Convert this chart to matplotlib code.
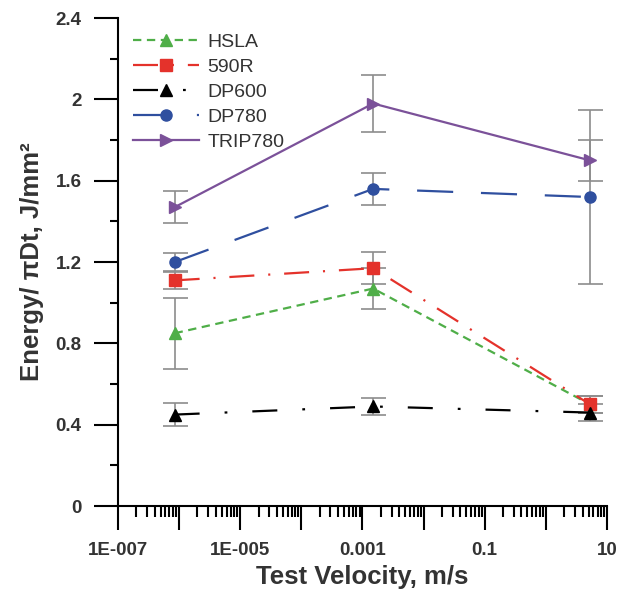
import matplotlib
matplotlib.use('Agg')
import matplotlib.pyplot as plt
from matplotlib.ticker import FixedLocator, LogLocator, NullFormatter, MultipleLocator

plt.rcParams['font.family'] = ['Liberation Sans', 'DejaVu Sans']
plt.rcParams['lines.scale_dashes'] = False

velocity = [8.5e-7, 1.5e-3, 5.3]

materials = ['HSLA', '590R', 'DP600', 'DP780', 'TRIP780']
hsla = [0.85, 1.07, 0.50]
hsla_err = [0.175, 0.10, 0.04]
r590 = [1.11, 1.17, 0.50]
r590_err = [0.04, 0.08, 0.04]
dp600 = [0.45, 0.49, 0.46]
dp600_err = [0.055, 0.04, 0.04]
dp780 = [1.20, 1.56, 1.52]
dp780_err = [0.045, 0.08, 0.43]
trip780 = [1.47, 1.98, 1.70]
trip780_err = [0.08, 0.14, 0.10]

xtick_vals = [1e-7, 1e-5, 1e-3, 0.1, 10]
xtick_labels = ['1E-007', '1E-005', '0.001', '0.1', '10']
ytick_vals = [0, 0.4, 0.8, 1.2, 1.6, 2.0, 2.4]
ytick_labels = ['0', '0.4', '0.8', '1.2', '1.6', '2', '2.4']

series = [
    (hsla, hsla_err, '#4fae48', '^', (0, (6, 4))),
    (r590, r590_err, '#e4322b', 's', (0, (18, 10, 1.5, 10))),
    (dp600, dp600_err, 'black', '^', (0, (18, 18, 2, 18))),
    (dp780, dp780_err, '#2f4f9f', 'o', (0, (26, 20))),
    (trip780, trip780_err, '#7b5199', '>', '-'),
]

fig = plt.figure(figsize=(6.2, 5.94), dpi=100)
ax = fig.add_axes([0.19, 0.148, 0.789, 0.8215])

for (vals, errs, col, mk, ls), name in zip(series, materials):
    ax.errorbar(velocity, vals, yerr=errs, fmt='none', ecolor='#8c8c8c',
                elinewidth=1.2, capsize=9, capthick=1.2, zorder=1)
    ax.plot(velocity, vals, color=col, marker=mk, markersize=8, linestyle=ls,
            linewidth=1.6, label=name, zorder=3)

ax.set_xscale('log')
ax.set_xlim(1e-7, 10)
ax.set_ylim(0, 2.4)

# long tick every decade, label every second decade
decades = [10.0 ** k for k in range(-7, 2)]
ax.xaxis.set_major_locator(FixedLocator(decades))
ax.xaxis.set_minor_locator(LogLocator(base=10, subs=range(2, 10), numticks=20))
ax.xaxis.set_minor_formatter(NullFormatter())
labels_all = []
for v in decades:
    match = [l for t, l in zip(xtick_vals, xtick_labels) if abs(t - v) / v < 1e-6]
    labels_all.append(match[0] if match else '')
ax.set_xticklabels(labels_all)

ax.set_yticks(ytick_vals, ytick_labels)
ax.yaxis.set_minor_locator(MultipleLocator(0.2))

ax.spines['top'].set_visible(False)
ax.spines['right'].set_visible(False)
ax.spines['left'].set_linewidth(1.5)
ax.spines['bottom'].set_linewidth(1.5)
ax.tick_params(which='major', length=17, width=1.5, labelsize=13.5)
ax.tick_params(axis='x', which='major', pad=9)
ax.tick_params(axis='y', which='major', pad=9)
ax.tick_params(which='minor', length=8, width=1.5)
ax.tick_params(axis='y', which='minor', length=6)
for lab in ax.get_xticklabels() + ax.get_yticklabels():
    lab.set_fontweight('bold')
    lab.set_color('#333333')

ax.set_xlabel('Test Velocity, m/s', fontsize=18.5, fontweight='bold', color='#333333', labelpad=4)
ax.set_ylabel('Energy/ \u03c0Dt, J/mm\u00b2', fontsize=18.5, fontweight='bold', color='#333333', labelpad=8)

leg = ax.legend(loc='upper left', bbox_to_anchor=(0.0, 1.0), frameon=False, fontsize=14,
                handlelength=3.4, handletextpad=0.4, labelspacing=0.38, borderaxespad=0.4)
for t in leg.get_texts():
    t.set_color('#333333')

fig.savefig('out.png', dpi=100)
